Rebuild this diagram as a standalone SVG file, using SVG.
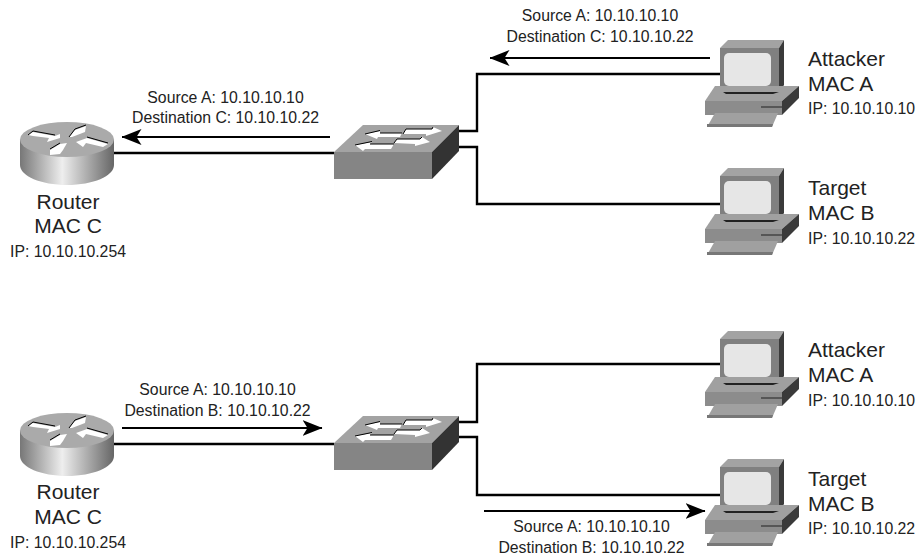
<svg xmlns="http://www.w3.org/2000/svg" width="923" height="555" viewBox="0 0 923 555">
<style>
text{font-family:"Liberation Sans",Arial,sans-serif;fill:#222}
.l{font-size:21px;text-anchor:middle}
.s{font-size:15.8px;text-anchor:middle}
.n{font-size:21px}
.i{font-size:15.8px}
.c{fill:none;stroke:#000;stroke-width:2.4}
.a{fill:none;stroke:#000;stroke-width:1.8;marker-end:url(#arr)}
</style>
<defs>
<marker id="arr" markerUnits="userSpaceOnUse" markerWidth="20" markerHeight="16" refX="19.500" refY="8" orient="auto"><path d="M0 0L20 8L0 16L5 8Z" fill="#000"/></marker>
<linearGradient id="cyl" x1="0" x2="1" y1="0" y2="0"><stop offset="0" stop-color="#777"/><stop offset=".45" stop-color="#eee"/><stop offset="1" stop-color="#666"/></linearGradient>
<g id="pc">
<path d="M0 8L8 0H64L59 8Z" fill="#a3a3a3"/>
<path d="M59 8L64 0V45L59 52Z" fill="#3a3a3a"/>
<rect x="0" y="8" width="59" height="44" fill="#808080"/>
<rect x="4" y="13" width="47" height="33" rx="5" fill="#e6e6e6"/>
<path d="M-5 46H79L62 61H-15Z" fill="#a0a0a0"/>
<path d="M3 52H59L53 54H6Z" fill="#222"/>
<rect x="-15" y="61" width="77" height="14" fill="#8c8c8c"/>
<path d="M62 61L79 46V58L62 75Z" fill="#3a3a3a"/>
<path d="M41 67H62" stroke="#333" stroke-width="1.2"/>
<path d="M-5 73H58L52 87H-13Z" fill="#a0a0a0"/>
<path d="M-13 84H53L52 87H-13Z" fill="#777"/>
</g>
<g id="sw">
<path d="M0 27L29 0H125L98 27Z" fill="#a3a3a3"/>
<rect x="0" y="27" width="98" height="27" fill="#858585"/>
<path d="M98 27L125 0V26L98 54Z" fill="#333"/>
<path d="M31 9L46 6V8H68L66 12H44L43 14Z" fill="#fff"/>
<path d="M69 9L72 4H98L99 2L108 6L92 11V9Z" fill="#fff"/>
<path d="M21 20L38 17L36 19H60L57 24H31L29 26Z" fill="#fff"/>
<path d="M60 18L63 14H86L88 12L96 17L81 21V19Z" fill="#fff"/>
<path d="M31 9L46 5.500M46 8H68M69 9L72 4H98L99 2M21 20L38 16.500M36 19H60M60 18L63 14H86L88 12" stroke="#000" stroke-width="1" fill="none"/>
</g>
<g id="rtr">
<path d="M20 140V165C20 176 41 185 67 185C93 185 114 176 114 165V140Z" fill="url(#cyl)"/>
<ellipse cx="67" cy="139.500" rx="47" ry="17.500" fill="#aaa"/>
<path d="M28 135L33 132L55 136L60 134V138L47 142L49 138L33 136Z" fill="#fff"/>
<path d="M69 137L75 130L86 126L85 132L72 137Z" fill="#fff"/>
<path d="M76 142L87 138L108 144L103 147L86 143L83 147Z" fill="#fff"/>
<path d="M50 150L60 144L67 143L63 150L60 154L50 155Z" fill="#fff"/>
<path d="M28 135L33 131L55 135M69 137L75 129L86 125M87 137L108 143M50 149L60 143" stroke="#000" fill="none"/>
</g>
</defs>
<g id="connectors">
<path class="c" d="M113 153H334"/>
<path class="c" d="M458 131H477V74H720"/>
<path class="c" d="M458 147H477V204H720"/>
<path class="c" d="M113 444H334"/>
<path class="c" d="M458 422H477V364H720"/>
<path class="c" d="M458 437H477V495H720"/>
<path class="a" d="M330 137H122"/>
<path class="a" d="M710 58H490"/>
<path class="a" d="M122 428H322"/>
<path class="a" d="M484 511H705"/>
</g>
<g id="router1"><use href="#rtr"/><text class="l" x="68" y="209">Router</text><text class="l" x="68" y="233">MAC C</text><text class="s" x="68" y="257">IP: 10.10.10.254</text></g>
<g id="router2"><use href="#rtr" y="291"/><text class="l" x="68" y="499">Router</text><text class="l" x="68" y="524">MAC C</text><text class="s" x="68" y="548">IP: 10.10.10.254</text></g>
<g id="switch1"><use href="#sw" x="334" y="125"/></g>
<g id="switch2"><use href="#sw" x="334" y="416"/></g>
<g id="attacker1"><use href="#pc" x="720" y="40"/><text class="n" x="808" y="66">Attacker</text><text class="n" x="808" y="91">MAC A</text><text class="i" x="808" y="114">IP: 10.10.10.10</text></g>
<g id="target1"><use href="#pc" x="720" y="168"/><text class="n" x="808" y="195">Target</text><text class="n" x="808" y="220">MAC B</text><text class="i" x="808" y="244">IP: 10.10.10.22</text></g>
<g id="attacker2"><use href="#pc" x="720" y="331"/><text class="n" x="808" y="357">Attacker</text><text class="n" x="808" y="382">MAC A</text><text class="i" x="808" y="406">IP: 10.10.10.10</text></g>
<g id="target2"><use href="#pc" x="720" y="459"/><text class="n" x="808" y="486">Target</text><text class="n" x="808" y="511">MAC B</text><text class="i" x="808" y="534">IP: 10.10.10.22</text></g>
<g id="labels">
<text class="s" x="600" y="21">Source A: 10.10.10.10</text><text class="s" x="600" y="42">Destination C: 10.10.10.22</text>
<text class="s" x="225.500" y="103">Source A: 10.10.10.10</text><text class="s" x="225.500" y="123">Destination C: 10.10.10.22</text>
<text class="s" x="217.500" y="395">Source A: 10.10.10.10</text><text class="s" x="217.500" y="416">Destination B: 10.10.10.22</text>
<text class="s" x="591.500" y="532">Source A: 10.10.10.10</text><text class="s" x="591.500" y="553">Destination B: 10.10.10.22</text>
</g>
</svg>
